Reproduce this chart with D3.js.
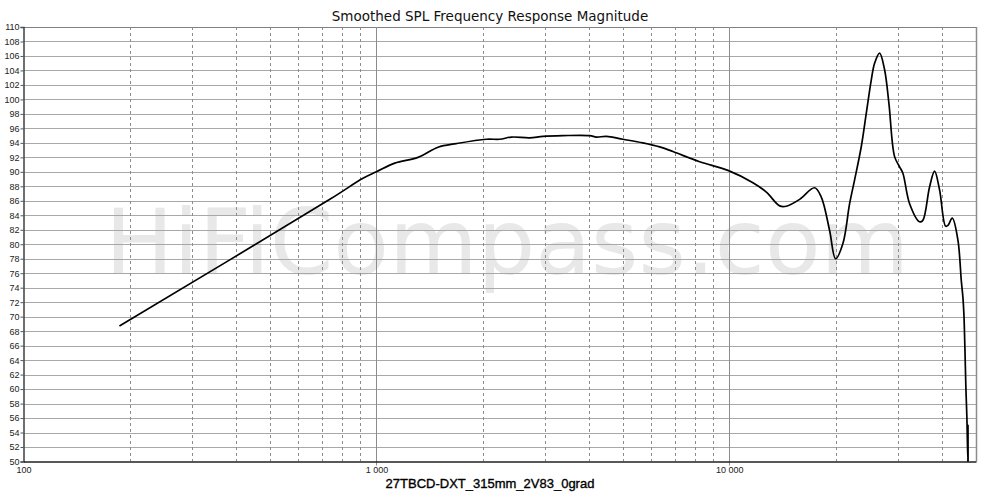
<!DOCTYPE html>
<html><head><meta charset="utf-8">
<script src="https://cdn.jsdelivr.net/npm/d3@7"></script>
<style>html,body{margin:0;padding:0;background:#fff;}svg{display:block;}</style>
</head><body>
<script>
const title = "Smoothed SPL Frequency Response Magnitude";
const xLabel = "27TBCD-DXT_315mm_2V83_0grad";
const watermark = "HiFiCompass.com";
const freqs = [187,738,916,1000,1127,1312,1495,1685,2049,2236,2413,2718,2965,3378,4020,4201,4483,4995,5691,6347,
  6922,8240,9909,11665,12735,13885,14505,15820,17443,18221,19237,20005,20982,21920,22646,23658,24441,25253,25800,26658,
  27540,28322,29398,30368,31033,32421,34597,35346,36929,38155,39424,41000,41628,42830,44425,45420,45900,46200,46500,46800,
  47110,47420,47450,47480];
const spl = [68.7,86.2,89.1,90.0,91.2,92.0,93.4,93.9,94.5,94.5,94.8,94.7,94.9,95.0,95.0,94.8,94.9,94.5,94.0,93.45,
  92.8,91.4,90.2,88.5,87.2,85.3,85.25,86.2,87.8,86.5,81.9,78.0,80.1,85.6,88.9,93.5,98.1,102.7,105.0,106.4,
  104.1,99.5,92.1,90.7,89.8,85.6,83.1,83.3,87.9,90.1,87.5,82.5,82.6,83.6,80.6,75.0,72.7,70.4,65.8,60.3,
  56.1,50.0,55.0,50.0];
const yTicks = d3.range(50, 111, 2);
const xMajor = [100, 1000, 10000];
const xMajorLabels = ["100", "1 000", "10 000"];
const xMinor = [200,300,400,500,600,700,800,900,2000,3000,4000,5000,6000,7000,8000,9000,20000,30000,40000];

const W = 1000, H = 498;
const svg = d3.select("body").append("svg").attr("width", W).attr("height", H);
svg.append("rect").attr("width", W).attr("height", H).attr("fill", "#fff");

const x = d3.scaleLog().domain([100, 50000]).range([23.5, 976]);
const y = d3.scaleLinear().domain([50, 110]).range([461.5, 27]);

// watermark
svg.append("text").attr("x", 105).attr("y", 274)
  .attr("font-family", "DejaVu Sans").attr("font-size", 91)
  .attr("fill", "#e8e8e8").text(watermark);

// horizontal grid
svg.append("g").selectAll("line").data(yTicks.filter(d => d > 50)).join("line")
  .attr("x1", x(100)).attr("x2", x(50000))
  .attr("y1", d => Math.round(y(d)) + 0.5).attr("y2", d => Math.round(y(d)) + 0.5)
  .attr("stroke", d => d === 110 ? "#808080" : "#a8a8a8").attr("stroke-width", 1);

// vertical minor grid (dashed)
svg.append("g").selectAll("line").data(xMinor).join("line")
  .attr("x1", d => Math.round(x(d)) + 0.5).attr("x2", d => Math.round(x(d)) + 0.5)
  .attr("y1", y(110)).attr("y2", y(50))
  .attr("stroke", "#8c8c8c").attr("stroke-dasharray", "3,3").attr("stroke-width", 1);

// vertical major grid
svg.append("g").selectAll("line").data(xMajor.slice(1)).join("line")
  .attr("x1", d => Math.round(x(d)) + 0.5).attr("x2", d => Math.round(x(d)) + 0.5)
  .attr("y1", y(110)).attr("y2", y(50) + 4)
  .attr("stroke", "#8c8c8c").attr("stroke-width", 1);

// right border
svg.append("line").attr("x1", 976.5).attr("x2", 976.5).attr("y1", y(110)).attr("y2", y(50))
  .attr("stroke", "#8c8c8c").attr("stroke-width", 1.5);

// left axis
const yAxis = d3.axisLeft(y).tickValues(yTicks).tickSize(3).tickPadding(1).tickFormat(d3.format("d"));
const gy = svg.append("g").attr("transform", `translate(${x(100)},0)`).call(yAxis);
gy.select(".domain").attr("stroke", "#404040").attr("stroke-width", 1.5);
gy.selectAll(".tick line").attr("stroke", "#555");
gy.selectAll("text").attr("font-family", "Liberation Sans, Arial, sans-serif").attr("font-size", 9).attr("fill", "#222");

// bottom axis
const xAxis = d3.axisBottom(x).tickValues(xMajor).tickSize(0).tickPadding(5)
  .tickFormat((d, i) => xMajorLabels[i]);
const gx = svg.append("g").attr("transform", `translate(0,${y(50)})`).call(xAxis);
gx.select(".domain").attr("stroke", "#202020").attr("stroke-width", 1.5);
gx.selectAll("text").attr("font-family", "Liberation Sans, Arial, sans-serif").attr("font-size", 9).attr("fill", "#222");

// curve
svg.append("path").datum(spl).attr("d", d3.line().x((d, i) => x(freqs[i])).y(d => y(d)).curve(d3.curveCatmullRom.alpha(0.5)))
  .attr("fill", "none").attr("stroke", "#000").attr("stroke-width", 1.7).attr("stroke-linejoin", "round");

// title
svg.append("text").attr("x", 490).attr("y", 21).attr("text-anchor", "middle")
  .attr("font-family", "DejaVu Sans").attr("font-size", 13.5).attr("fill", "#111").text(title);

// x label
svg.append("text").attr("x", 490).attr("y", 488).attr("text-anchor", "middle")
  .attr("font-family", "Liberation Sans, Arial, sans-serif").attr("font-size", 13)
  .attr("fill", "#000").attr("stroke", "#000").attr("stroke-width", 0.35).text(xLabel);
</script>
</body></html>
